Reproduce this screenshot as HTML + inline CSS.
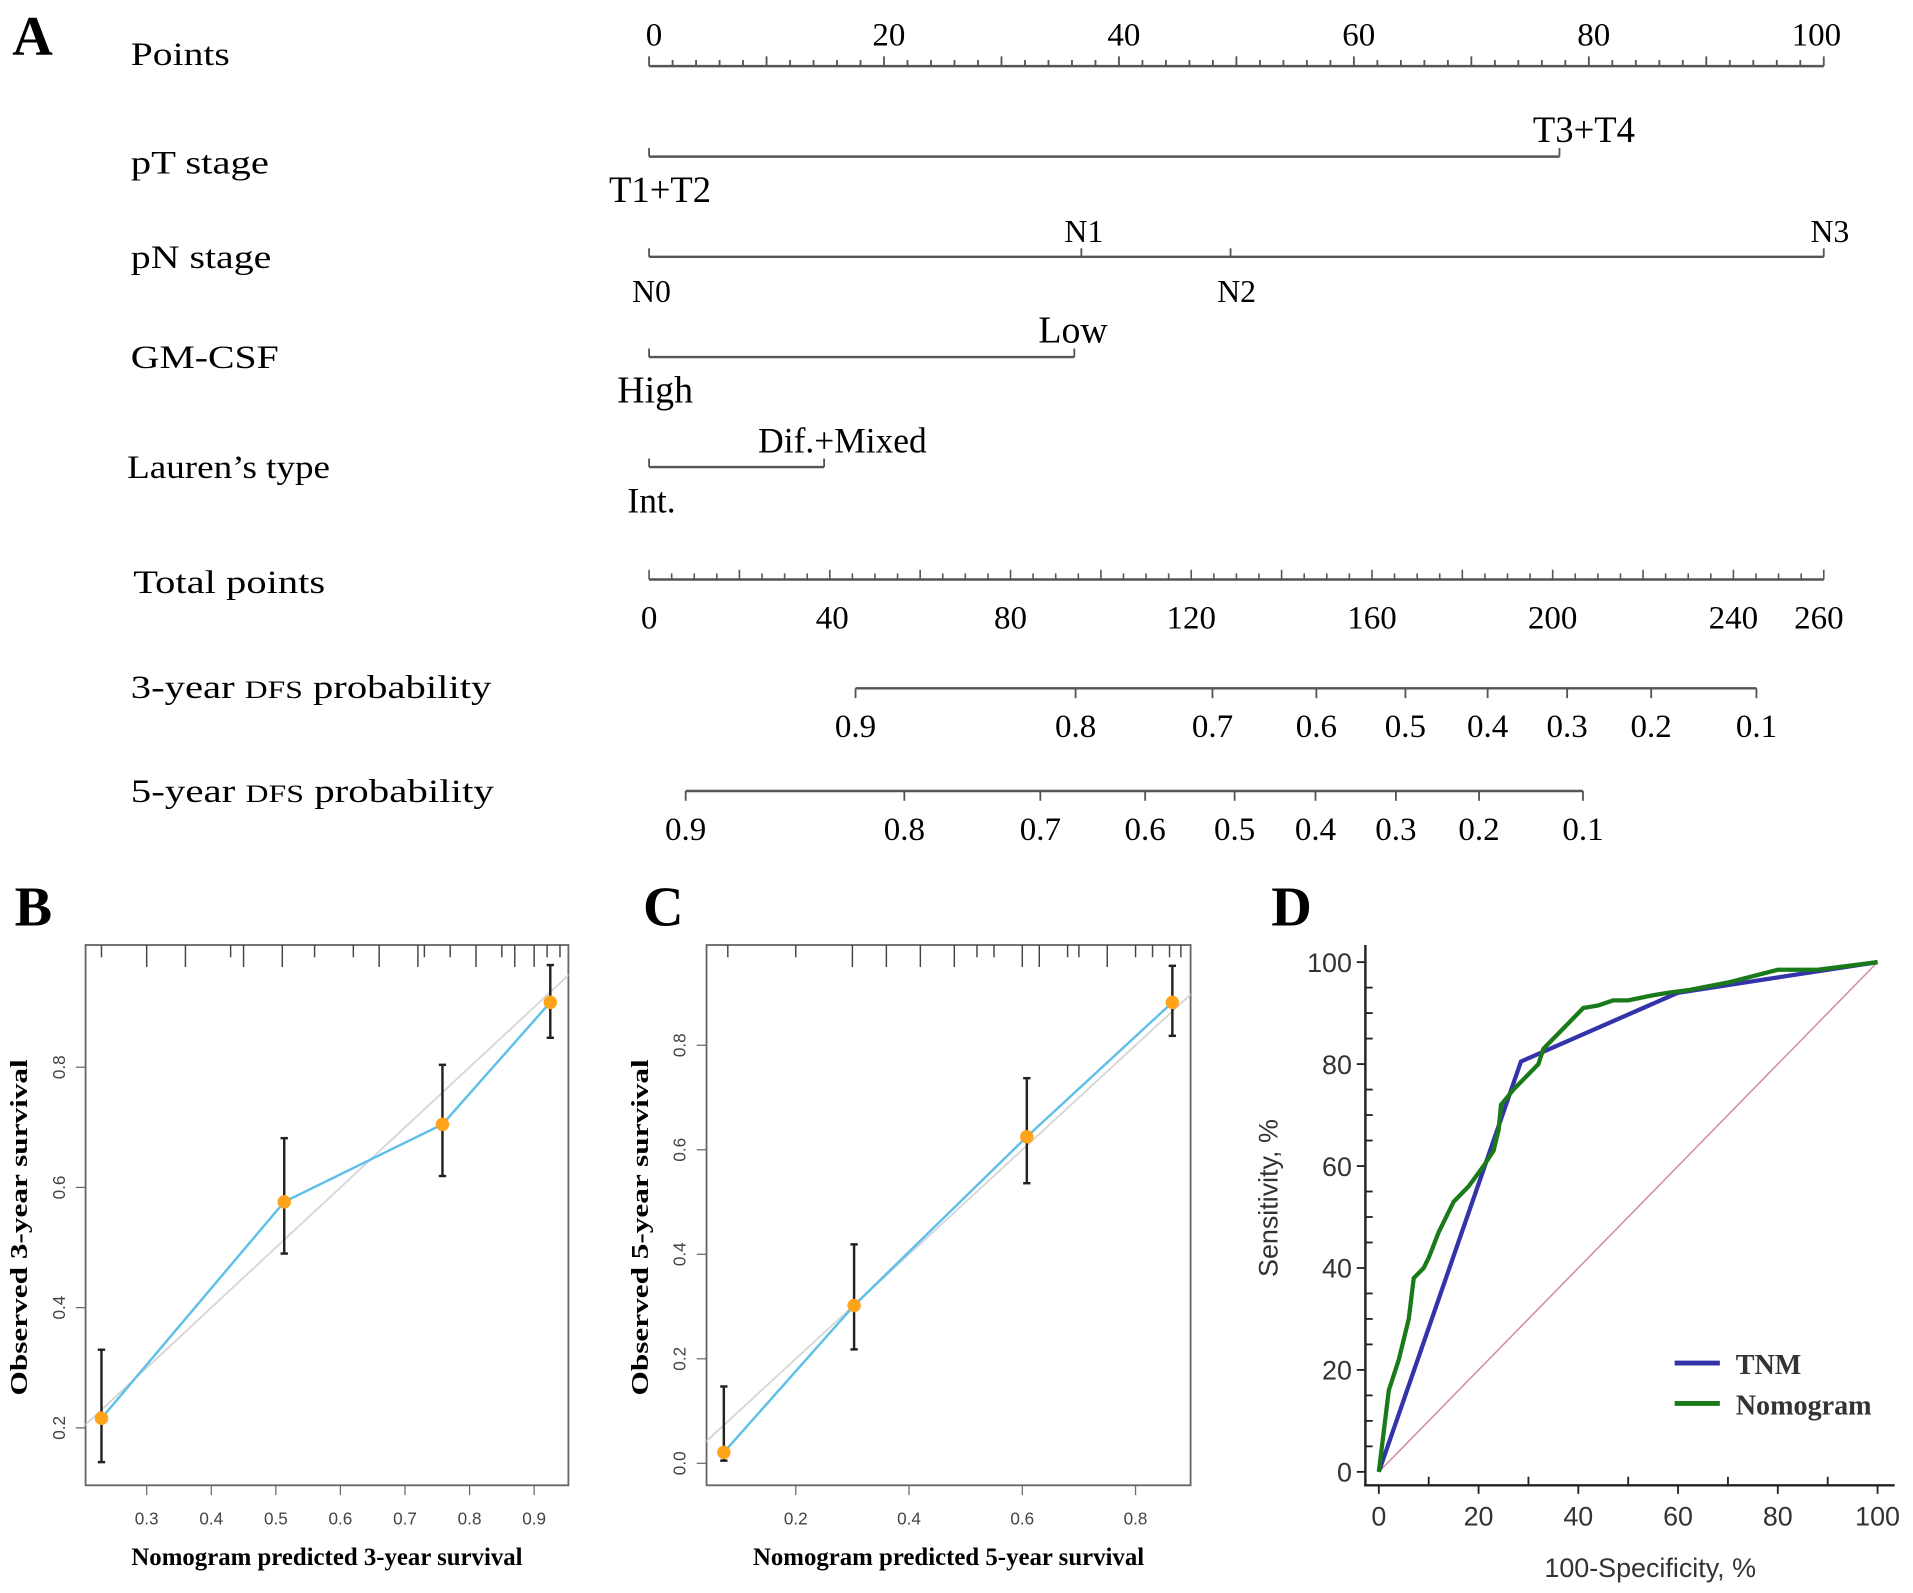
<!DOCTYPE html>
<html><head><meta charset="utf-8"><style>
html,body{margin:0;padding:0;background:#fff;}
svg{display:block;}
.s{font-family:"Liberation Serif",serif;}
.a{font-family:"Liberation Sans",sans-serif;}
</style></head><body>
<svg id="fig" width="1913" height="1593" viewBox="0 0 1565 1303" xmlns="http://www.w3.org/2000/svg">
<g id="nomo"></g>
<g id="pb"></g>
<g id="pc"></g>
<g id="pd"></g>
</svg>
<script>
// ---- Panel A data ----
const pointTicks = [0,20,40,60,80,100];
const totalTicks = [0,40,80,120,160,200,240,260];
const rowLabels = ["Points","pT stage","pN stage","GM-CSF","Lauren\u2019s type","Total points","3-year DFS probability","5-year DFS probability"];
const ptLevels = ["T1+T2","T3+T4"]; const ptPoints = [0,77.5];
const pnLevels = ["N0","N1","N2","N3"]; const pnPoints = [0,36.8,49.5,100];
const gmLevels = ["High","Low"]; const gmPoints = [0,36.2];
const laurenLevels = ["Int.","Dif.+Mixed"]; const laurenPoints = [0,14.9];
const prob3Labels = ["0.9","0.8","0.7","0.6","0.5","0.4","0.3","0.2","0.1"];
const prob3Total = [45.7,94.4,124.7,147.7,167.4,185.6,203.2,221.8,245.1];
const prob5Labels = ["0.9","0.8","0.7","0.6","0.5","0.4","0.3","0.2","0.1"];
const prob5Total = [8.1,56.5,86.6,109.8,129.6,147.5,165.3,183.7,206.7];
// ---- Panel B data ----
const bPred = [0.23,0.513,0.758,0.925];
const bObs = [0.216,0.576,0.705,0.908];
const bLo = [0.143,0.49,0.619,0.849];
const bHi = [0.33,0.682,0.804,0.97];
const bXTicks = [0.3,0.4,0.5,0.6,0.7,0.8,0.9];
const bYTicks = [0.2,0.4,0.6,0.8];
// ---- Panel C data ----
const cPred = [0.073,0.303,0.608,0.865];
const cObs = [0.021,0.302,0.625,0.882];
const cLo = [0.005,0.218,0.536,0.818];
const cHi = [0.147,0.419,0.737,0.952];
const cXTicks = [0.2,0.4,0.6,0.8];
const cYTicks = [0.0,0.2,0.4,0.6,0.8];
// ---- Panel D data ----
const tnmX = [0,28.5,60,100];
const tnmY = [0,80.5,94,100];
const nomX = [0,1,2,4,6,7,9,10,12,15,18,21,23,24,24.5,27,30,32,33,36,40,41,44,47,50,55,58,62,70,80,88,100];
const nomY = [0,8,16,22,30,38,40,42,47,53,56,60,63,67,72,75,78,80,83,86,90,91,91.5,92.5,92.5,93.5,94,94.5,96,98.5,98.5,100];
const dTicks = [0,20,40,60,80,100];

const NS="http://www.w3.org/2000/svg";
function mk(parent,tag,attrs,text){const e=document.createElementNS(NS,tag);for(const k in attrs)e.setAttribute(k,attrs[k]);if(text!==undefined)e.textContent=text;parent.appendChild(e);return e;}

// ===== Panel A =====
const A=document.getElementById('nomo');
const px0=531, px1=1492;
const ptX=p=>px0+(px1-px0)*p/100;
const totX=t=>px0+(px1-px0)*t/260;
let e=mk(A,'text',{x:10,y:45,'font-size':46,'font-weight':'bold',class:'s'},'A');

const rowY=[45,134,211,293,383,477,563,648];
const rowX=[107,107,107,107,104,109,107,107];
const rowW=[81,113,115,121,166,157,295,297];
rowLabels.forEach((l,i)=>{
  const t=mk(A,'text',{x:rowX[i],y:rowY[i]+8,'font-size':27,class:'s',textLength:rowW[i],lengthAdjust:'spacingAndGlyphs'});
  
  if(l.indexOf('DFS')>=0){const parts=l.split('DFS');mk(t,'tspan',{},parts[0]);mk(t,'tspan',{'font-size':21},'DFS');mk(t,'tspan',{},parts[1]);}
  else t.textContent=l;
});
const lineStyle={stroke:'#555','stroke-width':2,fill:'none'};
e=mk(A,'line',Object.assign({x1:px0,y1:54,x2:px1,y2:54},lineStyle));

for(let p=0;p<=100;p+=2){mk(A,'line',{x1:ptX(p),y1:54,x2:ptX(p),y2:p%10==0?46:49,stroke:'#555','stroke-width':1.5});}
pointTicks.forEach(p=>{const t=mk(A,'text',{x:ptX(p)+(p==100?-6:4),y:37,'font-size':27,'text-anchor':'middle',class:'s'},String(p));});
function catRow(levels,pts,y,pos,name){
  const maxP=Math.max(...pts);
  const l=mk(A,'line',Object.assign({x1:ptX(0),y1:y,x2:ptX(maxP),y2:y},lineStyle));
  
  pts.forEach((p,i)=>{
    mk(A,'line',{x1:ptX(p),y1:y,x2:ptX(p),y2:y-7,stroke:'#555','stroke-width':1.5});
    const up=pos[i][0]; const dx=pos[i][1];
    const t=mk(A,'text',{x:ptX(p)+dx,y:up?y-12:y+37,'font-size':pos[i][2]||30,'text-anchor':'middle',class:'s'},levels[i]);
    
  });
}
catRow(ptLevels,ptPoints,128,[[0,9,30],[1,20,30]],'pt-stage');
catRow(pnLevels,pnPoints,210,[[0,2,26],[1,2,26],[0,5,26],[1,5,26]],'pn-stage');
catRow(gmLevels,gmPoints,292,[[0,5,31],[1,-1,31]],'gm-csf');
catRow(laurenLevels,laurenPoints,382,[[0,2,29],[1,15,29]],'lauren-type');
e=mk(A,'line',Object.assign({x1:px0,y1:474,x2:px1,y2:474},lineStyle));

for(let t=0;t<=260;t+=5){mk(A,'line',{x1:totX(t),y1:474,x2:totX(t),y2:t%20==0?466:469,stroke:'#555','stroke-width':1.3});}
totalTicks.forEach(t=>{const s=mk(A,'text',{x:totX(t)+(t==260?-4:(t==40?2:0)),y:514,'font-size':27,'text-anchor':'middle',class:'s'},String(t));});
function probRow(labels,tots,y,name){
  const l=mk(A,'line',Object.assign({x1:totX(tots[0]),y1:y,x2:totX(tots[tots.length-1]),y2:y},lineStyle));
  
  tots.forEach((t,i)=>{mk(A,'line',{x1:totX(t),y1:y,x2:totX(t),y2:y+8,stroke:'#555','stroke-width':1.5});
    const s=mk(A,'text',{x:totX(t),y:y+40,'font-size':27,'text-anchor':'middle',class:'s'},labels[i]);
    });
}
probRow(prob3Labels,prob3Total,563,'prob-3year');
probRow(prob5Labels,prob5Total,647,'prob-5year');

// ===== Calibration panels =====
function calib(G,cfg){
  const {bx0,bx1,by0,by1,xs,ys,pred,obs,lo,hi,xt,yt,letter,lx,ytitle,xtitle,rug}=cfg;
  let t=mk(G,'text',{x:lx,y:757,'font-size':46,'font-weight':'bold',class:'s'},letter);
  
  const r=mk(G,'rect',{x:bx0,y:by0,width:bx1-bx0,height:by1-by0,fill:'none',stroke:'#666','stroke-width':1.5});
  
  rug.forEach(v=>mk(G,'line',{x1:xs(v),y1:by0,x2:xs(v),y2:by0+(v*1000%3<1?18:10),stroke:'#444','stroke-width':1.2}));
  xt.forEach(v=>{mk(G,'line',{x1:xs(v),y1:by1,x2:xs(v),y2:by1+8,stroke:'#666'});
    const s=mk(G,'text',{x:xs(v),y:by1+32,'font-size':14,'text-anchor':'middle',fill:'#444',class:'a'},v.toFixed(1));
    });
  yt.forEach(v=>{mk(G,'line',{x1:bx0,y1:ys(v),x2:bx0-8,y2:ys(v),stroke:'#666'});
    const s=mk(G,'text',{x:bx0-17,y:ys(v),'font-size':14,'text-anchor':'middle',fill:'#444',transform:`rotate(-90 ${bx0-17} ${ys(v)})`,class:'a'},v.toFixed(1));
    });
  const cid='clip'+letter;const cp=mk(G,'clipPath',{id:cid});mk(cp,'rect',{x:bx0,y:by0,width:bx1-bx0,height:by1-by0});
  const ideal=mk(G,'line',{x1:xs(-0.2),y1:ys(-0.2),x2:xs(1.2),y2:ys(1.2),stroke:'#d6d6d6','stroke-width':1.5,'clip-path':`url(#${cid})`});
  
  const pl=mk(G,'polyline',{points:pred.map((p,i)=>xs(p)+','+ys(obs[i])).join(' '),fill:'none',stroke:'#5fbfe8','stroke-width':2});
  
  pred.forEach((p,i)=>{
    const eb=mk(G,'g',{});
    mk(eb,'line',{x1:xs(p),y1:ys(lo[i]),x2:xs(p),y2:ys(hi[i]),stroke:'#222','stroke-width':2});
    mk(eb,'line',{x1:xs(p)-3,y1:ys(lo[i]),x2:xs(p)+3,y2:ys(lo[i]),stroke:'#222','stroke-width':2});
    mk(eb,'line',{x1:xs(p)-3,y1:ys(hi[i]),x2:xs(p)+3,y2:ys(hi[i]),stroke:'#222','stroke-width':2});
    const c=mk(G,'circle',{cx:xs(p),cy:ys(obs[i]),r:5.5,fill:'#ffa31a'});
    
  });
  t=mk(G,'text',{x:(bx0+bx1)/2,y:by1+65,'font-size':21,'font-weight':'bold','text-anchor':'middle',class:'s',textLength:320,lengthAdjust:'spacingAndGlyphs'},xtitle);
  
  const cy=(by0+by1)/2+10, cx=bx0-48;
  t=mk(G,'text',{x:cx,y:cy,'font-size':20,'font-weight':'bold','text-anchor':'middle',class:'s',transform:`rotate(-90 ${cx} ${cy})`,textLength:275,lengthAdjust:'spacingAndGlyphs'},ytitle);
  
}
const bRug=[0.23,0.3,0.36,0.43,0.45,0.51,0.56,0.62,0.66,0.72,0.73,0.77,0.81,0.85,0.87,0.9,0.92,0.94];
calib(document.getElementById('pb'),{bx0:70,bx1:465,by0:773,by1:1215,
  xs:v=>120+(v-0.3)*528.3, ys:v=>1168-(v-0.2)*491.7,
  pred:bPred,obs:bObs,lo:bLo,hi:bHi,xt:bXTicks,yt:bYTicks,letter:'B',lx:12,
  ytitle:'Observed 3-year survival',xtitle:'Nomogram predicted 3-year survival',rug:bRug});
const cRug=[0.08,0.2,0.3,0.36,0.42,0.48,0.52,0.55,0.6,0.63,0.68,0.7,0.75,0.8,0.83,0.86,0.88];
calib(document.getElementById('pc'),{bx0:578,bx1:974,by0:773,by1:1215,
  xs:v=>651+(v-0.2)*463.3, ys:v=>1197-v*427.5,
  pred:cPred,obs:cObs,lo:cLo,hi:cHi,xt:cXTicks,yt:cYTicks,letter:'C',lx:526,
  ytitle:'Observed 5-year survival',xtitle:'Nomogram predicted 5-year survival',rug:cRug});

// ===== Panel D =====
const D=document.getElementById('pd');
const dx=v=>1128+v*4.08, dy=v=>1204-v*4.17;
e=mk(D,'text',{x:1040,y:757,'font-size':46,'font-weight':'bold',class:'s'},'D');

e=mk(D,'line',{x1:1117,y1:773,x2:1117,y2:1216,stroke:'#222','stroke-width':2});

e=mk(D,'line',{x1:1116,y1:1215,x2:1550,y2:1215,stroke:'#222','stroke-width':2});

for(let v=0;v<=100;v+=5){mk(D,'line',{x1:1117,y1:dy(v),x2:v%20==0?1110:1123,y2:dy(v),stroke:'#222','stroke-width':1.5});}
for(let v=0;v<=100;v+=10){mk(D,'line',{x1:dx(v),y1:1215,x2:dx(v),y2:v%20==0?1222:1208,stroke:'#222','stroke-width':1.5});}
dTicks.forEach(v=>{
  let s=mk(D,'text',{x:1106,y:dy(v)+8,'font-size':22,'text-anchor':'end',fill:'#333',class:'a'},String(v));
  
  s=mk(D,'text',{x:dx(v),y:1248,'font-size':22,'text-anchor':'middle',fill:'#333',class:'a'},String(v));
  
});
e=mk(D,'text',{x:1045,y:980,'font-size':22,'text-anchor':'middle',fill:'#333',class:'a',transform:'rotate(-90 1045 980)'},'Sensitivity, %');

e=mk(D,'text',{x:1350,y:1290,'font-size':22,'text-anchor':'middle',fill:'#333',class:'a'},'100-Specificity, %');

e=mk(D,'line',{x1:dx(0),y1:dy(0),x2:dx(100),y2:dy(100),stroke:'#d08a9a','stroke-width':1.2});

e=mk(D,'polyline',{points:tnmX.map((x,i)=>dx(x)+','+dy(tnmY[i])).join(' '),fill:'none',stroke:'#3333aa','stroke-width':3.5});

e=mk(D,'polyline',{points:nomX.map((x,i)=>dx(x)+','+dy(nomY[i])).join(' '),fill:'none',stroke:'#1a7a1a','stroke-width':3.5});

let lg=mk(D,'g',{});
mk(lg,'line',{x1:1370,y1:1115,x2:1407,y2:1115,stroke:'#3333aa','stroke-width':4});
mk(lg,'text',{x:1420,y:1124,'font-size':23,'font-weight':'bold',fill:'#333',class:'s'},'TNM');
lg=mk(D,'g',{});
mk(lg,'line',{x1:1370,y1:1148,x2:1407,y2:1148,stroke:'#1a7a1a','stroke-width':4});
mk(lg,'text',{x:1420,y:1157,'font-size':23,'font-weight':'bold',fill:'#333',class:'s'},'Nomogram');
</script>
</body></html>
